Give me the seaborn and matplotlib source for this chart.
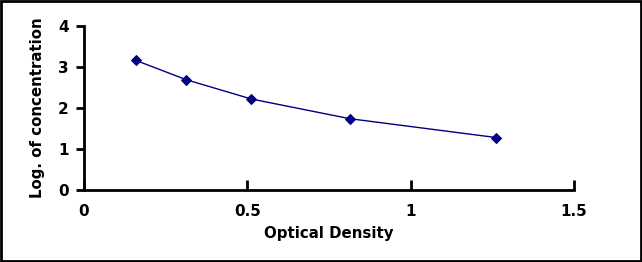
import numpy as np
import pandas as pd
import matplotlib
matplotlib.use("Agg")
import matplotlib.pyplot as plt
import seaborn as sns

# 标准曲线数据
od = [0.159, 0.313, 0.512, 0.813, 1.261]
log_conc = [3.16, 2.69, 2.22, 1.74, 1.28]
x_ticks = [0, 0.5, 1, 1.5]
y_ticks = [0, 1, 2, 3, 4]

df = pd.DataFrame({"od": od, "logc": log_conc})

sns.set_style("white")
plt.rcParams['font.family'] = ['DejaVu Sans']
plt.rcParams['font.weight'] = 'bold'
plt.rcParams['text.color'] = 'black'
plt.rcParams['axes.labelcolor'] = 'black'
plt.rcParams['xtick.color'] = 'black'
plt.rcParams['ytick.color'] = 'black'

fig = plt.figure(figsize=(6.42, 2.62), dpi=100)
ax = fig.add_axes([84/642, 72/262, 490/642, 164/262])

sns.lineplot(data=df, x="od", y="logc", ax=ax, color="#000080", linewidth=1,
             marker="D", markersize=5.5, markeredgecolor="#000080", markerfacecolor="#000080")

ax.set_xlim(0, 1.5)
ax.set_ylim(0, 4)
ax.set_xticks(x_ticks)
ax.set_xticklabels(["0", "0.5", "1", "1.5"])
ax.set_yticks(y_ticks)
ax.set_yticklabels([str(v) for v in y_ticks])

for s in ["top", "right"]:
    ax.spines[s].set_visible(False)
for s in ["left", "bottom"]:
    ax.spines[s].set_linewidth(2)
    ax.spines[s].set_color("black")

ax.tick_params(axis="x", bottom=True, direction="in", length=7, width=2, pad=10,
               labelsize=11, colors="black")
ax.tick_params(axis="y", left=True, direction="out", length=6, width=2, pad=5,
               labelsize=11, colors="black")
for lbl in ax.get_xticklabels() + ax.get_yticklabels():
    lbl.set_fontweight("bold")

ax.set_xlabel("Optical Density", fontsize=10.8, fontweight="bold", labelpad=5)
ax.set_ylabel("Log. of concentration", fontsize=10.8, fontweight="bold", labelpad=9)

# 外框
fig.patches.append(plt.Rectangle((0.002, 0.004), 0.996, 0.992, transform=fig.transFigure,
                                 fill=False, edgecolor="black", linewidth=2))

fig.savefig("out.png", dpi=100)
